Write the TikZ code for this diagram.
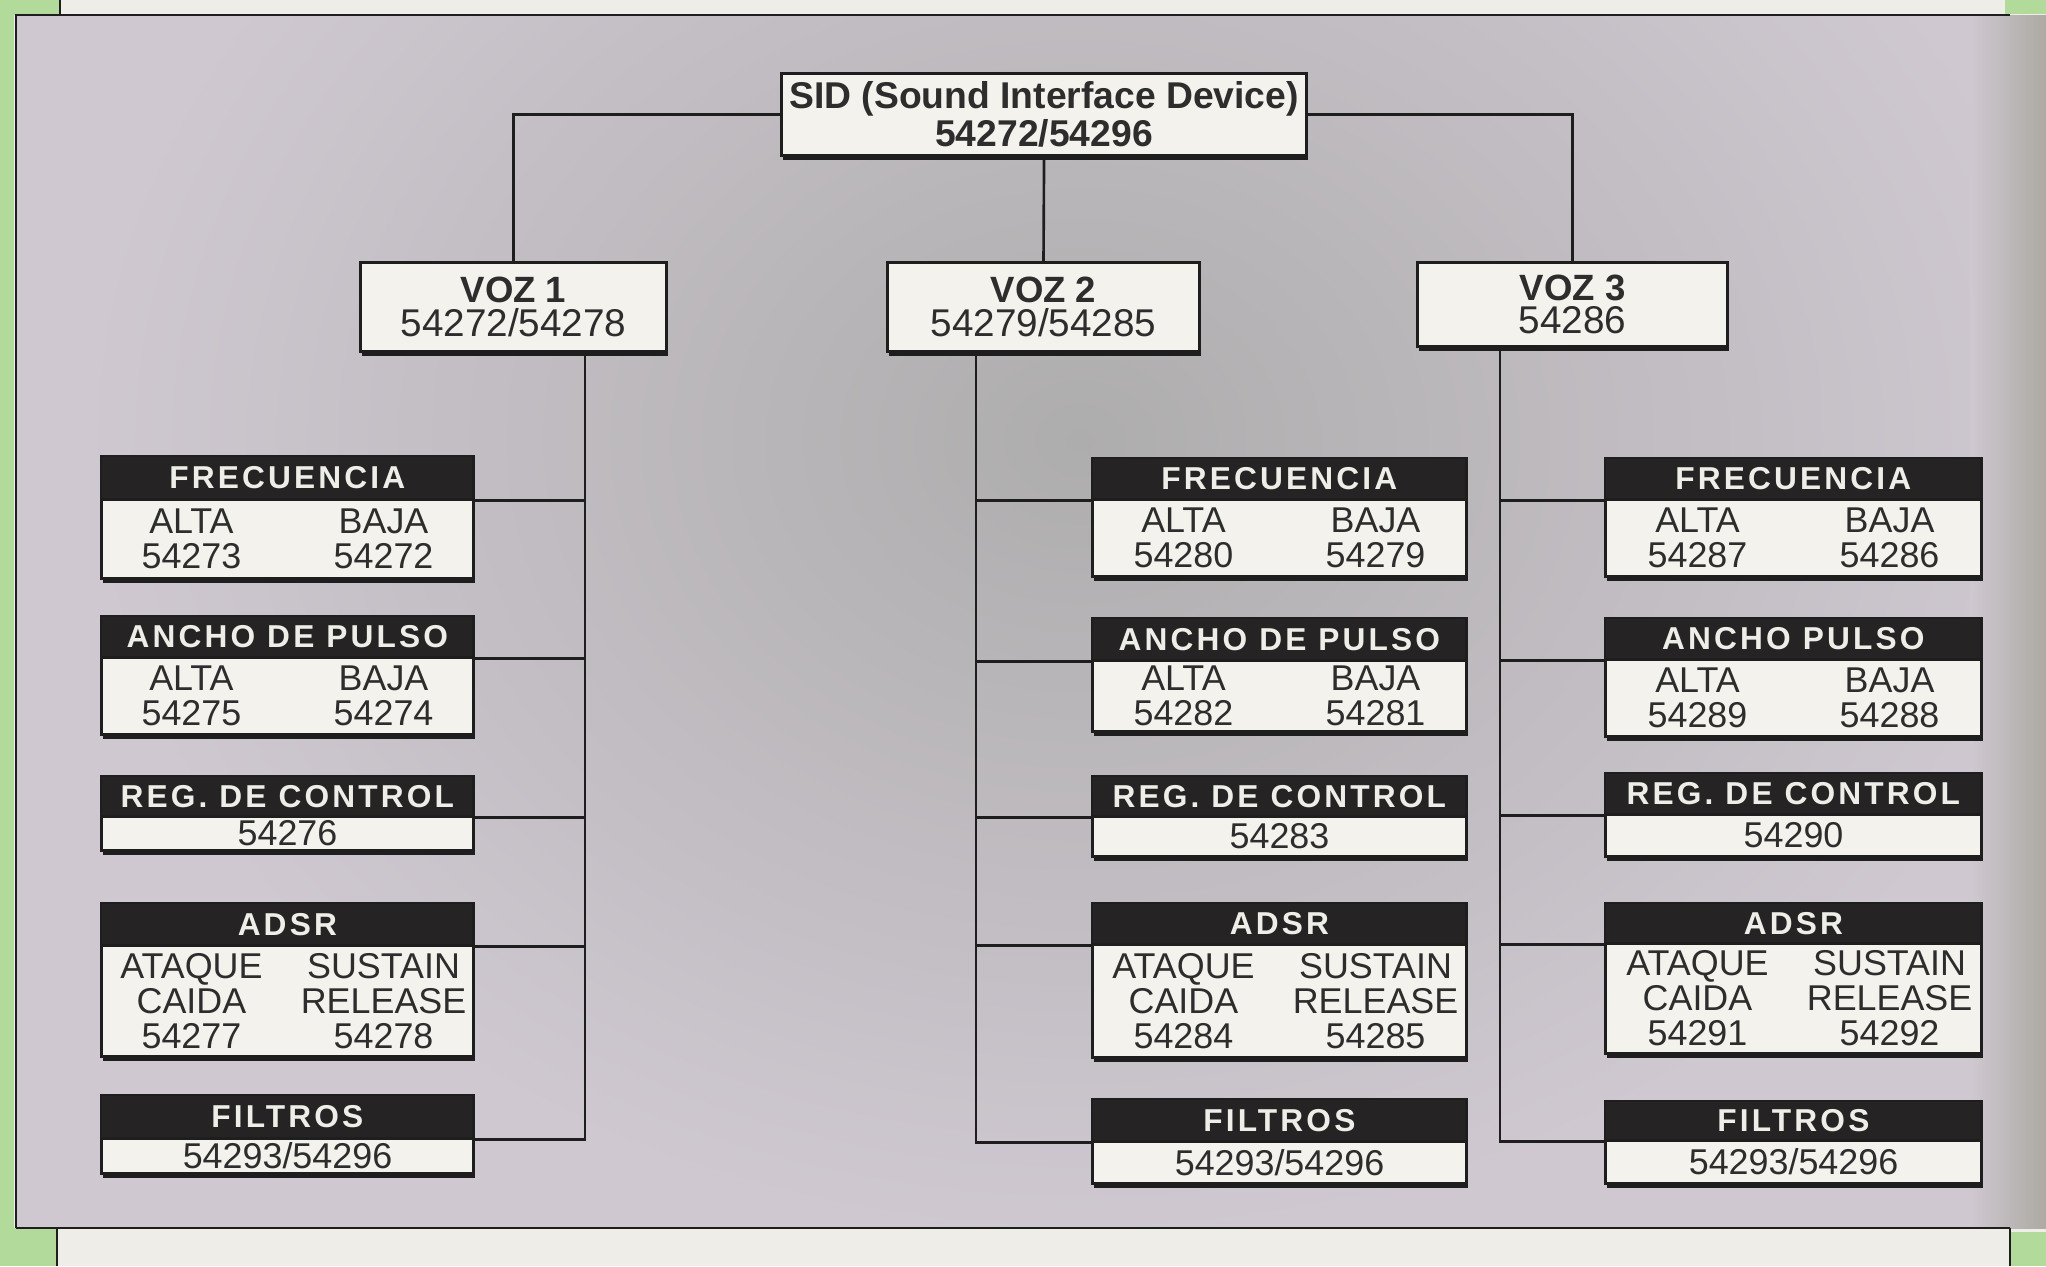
\documentclass[tikz,border=0pt]{standalone}
\usepackage{fontspec}
\setmainfont{Liberation Sans}
\newfontfamily\hdrf[LetterSpace=10]{Liberation Sans}
\usetikzlibrary{shadows}
\definecolor{paperc}{RGB}{238,237,232}
\definecolor{greenc}{RGB}{178,218,155}
\definecolor{panelc}{RGB}{207,200,209}
\definecolor{centerc}{RGB}{174,173,173}
\definecolor{edgec}{RGB}{172,170,162}
\definecolor{hdrc}{RGB}{38,35,36}
\definecolor{boxc}{RGB}{244,242,237}
\definecolor{linec}{RGB}{30,30,30}
\definecolor{txtc}{RGB}{45,45,45}
\definecolor{hdrtxt}{RGB}{238,238,232}
\newcommand\pairrow[2]{\makebox[3.4cm]{\makebox[0pt]{#1}\hspace{1.92cm}\makebox[0pt]{#2}}}
\newcommand\voznum[1]{{\fontsize{11}{9.6}\selectfont #1}}
\tikzset{
  conn/.style={draw=linec, line width=0.75pt},
  framel/.style={draw=linec, line width=0.7pt},
  shd/.style={drop shadow={shadow xshift=0.4pt, shadow yshift=-1.3pt, opacity=1, fill=linec}},
  topbox/.style={draw=linec, fill=boxc, line width=0.8pt, inner sep=0pt, anchor=north west, align=center, text=txtc, shd},
  hdr/.style={draw=linec, fill=hdrc, line width=0.7pt, inner sep=0pt, anchor=north west, text=hdrtxt, font=\hdrf\bfseries\fontsize{9}{9}\selectfont},
  bodyb/.style={draw=linec, fill=boxc, line width=0.8pt, inner sep=0pt, anchor=north west, align=center, text=txtc, font=\fontsize{10.2}{9.9}\selectfont, shd}
}
\begin{document}
\begin{tikzpicture}[x=0.01cm,y=-0.01cm]
\useasboundingbox (0,0) rectangle (2046,1266);
% paper and page edges
\fill[paperc] (0,0) rectangle (2046,1266);
\fill[greenc] (0,0) rectangle (14,1266);
\fill[greenc] (0,0) rectangle (60,15);
\fill[greenc] (0,1228) rectangle (57,1266);
\fill[greenc] (2005,0) rectangle (2046,14);
\fill[greenc] (2010,1232) rectangle (2046,1266);
% textured panel (approximated)
\begin{scope}
  \clip (16,15) rectangle (2046,1228);
  \fill[panelc] (16,15) rectangle (2046,1228);
  \shade[inner color=centerc, outer color=panelc] (1080,440) ellipse [x radius=10cm, y radius=8cm];
  \shade[left color=panelc, right color=edgec] (1970,15) rectangle (2046,1228);
\end{scope}
\draw[framel] (16,1228) -- (16,15) -- (2010,15);
\draw[framel] (16,1228) -- (2010,1228);
\draw[framel] (60,0) -- (60,15);
\draw[framel] (57,1228) -- (57,1266);
\draw[framel] (2010,1228) -- (2010,1266);

% top level
\node[topbox, minimum width=5.25cm, minimum height=0.82cm, font=\bfseries\fontsize{10.6}{10.6}\selectfont] (sid) at (780,72) {SID (Sound Interface Device)\\54272/54296};
\node[topbox, minimum width=3.06cm, minimum height=0.89cm, font=\fontsize{10.4}{9.6}\selectfont] (v1) at (359,261) {\textbf{VOZ 1}\\\voznum{54272/54278}};
\node[topbox, minimum width=3.12cm, minimum height=0.89cm, font=\fontsize{10.4}{9.6}\selectfont] (v2) at (886,261) {\textbf{VOZ 2}\\\voznum{54279/54285}};
\node[topbox, minimum width=3.10cm, minimum height=0.84cm, font=\fontsize{10.4}{9.6}\selectfont] (v3) at (1416,261) {\textbf{VOZ 3}\\\voznum{54286}};

% left column (VOZ 1)
\begin{scope}[every node/.append style={minimum width=3.72cm}]
\node[hdr, minimum height=0.43cm] (l1h) at (100,455) {FRECUENCIA};
\node[bodyb, minimum height=0.79cm] (l1b) at (100,498) {\pairrow{ALTA}{BAJA}\\\pairrow{54273}{54272}};
\node[hdr, minimum height=0.41cm] (l2h) at (100,615) {ANCHO DE PULSO};
\node[bodyb, minimum height=0.77cm] (l2b) at (100,656) {\pairrow{ALTA}{BAJA}\\\pairrow{54275}{54274}};
\node[hdr, minimum height=0.40cm] (l3h) at (100,775) {REG. DE CONTROL};
\node[bodyb, minimum height=0.34cm] (l3b) at (100,815) {54276};
\node[hdr, minimum height=0.42cm] (l4h) at (100,902) {ADSR};
\node[bodyb, minimum height=1.11cm] (l4b) at (100,944) {\pairrow{ATAQUE}{SUSTAIN}\\\pairrow{CAIDA}{RELEASE}\\\pairrow{54277}{54278}};
\node[hdr, minimum height=0.43cm] (l5h) at (100,1094) {FILTROS};
\node[bodyb, minimum height=0.35cm] (l5b) at (100,1137) {54293/54296};
\end{scope}

% middle column (VOZ 2)
\begin{scope}[every node/.append style={minimum width=3.74cm}]
\node[hdr, minimum height=0.41cm] (m1h) at (1091,457) {FRECUENCIA};
\node[bodyb, minimum height=0.77cm] (m1b) at (1091,498) {\pairrow{ALTA}{BAJA}\\\pairrow{54280}{54279}};
\node[hdr, minimum height=0.42cm] (m2h) at (1091,617) {ANCHO DE PULSO};
\node[bodyb, minimum height=0.71cm] (m2b) at (1091,659) {\pairrow{ALTA}{BAJA}\\\pairrow{54282}{54281}};
\node[hdr, minimum height=0.40cm] (m3h) at (1091,775) {REG. DE CONTROL};
\node[bodyb, minimum height=0.40cm] (m3b) at (1091,815) {54283};
\node[hdr, minimum height=0.41cm] (m4h) at (1091,902) {ADSR};
\node[bodyb, minimum height=1.13cm] (m4b) at (1091,943) {\pairrow{ATAQUE}{SUSTAIN}\\\pairrow{CAIDA}{RELEASE}\\\pairrow{54284}{54285}};
\node[hdr, minimum height=0.42cm] (m5h) at (1091,1098) {FILTROS};
\node[bodyb, minimum height=0.42cm] (m5b) at (1091,1140) {54293/54296};
\end{scope}

% right column (VOZ 3)
\begin{scope}[every node/.append style={minimum width=3.76cm}]
\node[hdr, minimum height=0.41cm] (r1h) at (1604,457) {FRECUENCIA};
\node[bodyb, minimum height=0.77cm] (r1b) at (1604,498) {\pairrow{ALTA}{BAJA}\\\pairrow{54287}{54286}};
\node[hdr, minimum height=0.41cm] (r2h) at (1604,617) {ANCHO PULSO};
\node[bodyb, minimum height=0.77cm] (r2b) at (1604,658) {\pairrow{ALTA}{BAJA}\\\pairrow{54289}{54288}};
\node[hdr, minimum height=0.41cm] (r3h) at (1604,772) {REG. DE CONTROL};
\node[bodyb, minimum height=0.42cm] (r3b) at (1604,813) {54290};
\node[hdr, minimum height=0.40cm] (r4h) at (1604,902) {ADSR};
\node[bodyb, minimum height=1.10cm] (r4b) at (1604,942) {\pairrow{ATAQUE}{SUSTAIN}\\\pairrow{CAIDA}{RELEASE}\\\pairrow{54291}{54292}};
\node[hdr, minimum height=0.39cm] (r5h) at (1604,1100) {FILTROS};
\node[bodyb, minimum height=0.43cm] (r5b) at (1604,1139) {54293/54296};
\end{scope}

% connectors from SID to the voices
\draw[conn] (sid.west) -| (v1.north);
\draw[conn] (sid.east) -| (v3.north);
\draw[conn] (sid.south) -- (v2.north);

% trunks
\coordinate (t1) at (585,350);
\coordinate (t2) at (976,350);
\coordinate (t3) at (1500,345);
\draw[conn] (t1) |- (l5h.south east);
\foreach \n in {l1h,l2h,l3h,l4h} \draw[conn] (t1 |- \n.south east) -- (\n.south east);
\draw[conn] (t2) |- (m5h.south west);
\foreach \n in {m1h,m2h,m3h,m4h} \draw[conn] (t2 |- \n.south west) -- (\n.south west);
\draw[conn] (t3) |- (r5h.south west);
\foreach \n in {r1h,r2h,r3h,r4h} \draw[conn] (t3 |- \n.south west) -- (\n.south west);
\end{tikzpicture}
\end{document}
